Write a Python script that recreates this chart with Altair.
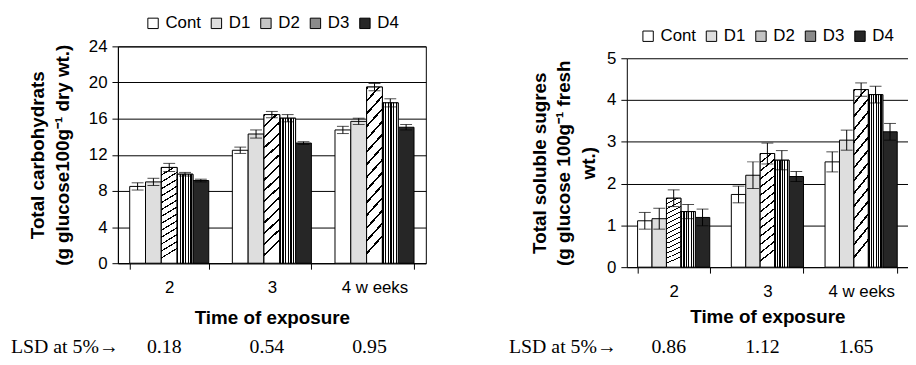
import altair as alt
import pandas as pd

weeks = ["2", "3", "4 w eeks"]
series = ["Cont", "D1", "D2", "D3", "D4"]

# Total carbohydrates (g glucose 100g-1 dry wt.)
carb_2 = [8.5, 9.0, 10.6, 9.85, 9.15]
carb_3 = [12.5, 14.3, 16.45, 16.05, 13.3]
carb_4 = [14.75, 15.7, 19.5, 17.75, 15.05]
carb_err_2 = [0.4, 0.4, 0.45, 0.2, 0.15]
carb_err_3 = [0.35, 0.45, 0.35, 0.4, 0.15]
carb_err_4 = [0.4, 0.35, 0.4, 0.45, 0.3]
carb_lsd = ["0.18", "0.54", "0.95"]

# Total soluble sugars (g glucose 100g-1 fresh wt.)
sugar_2 = [1.11, 1.16, 1.65, 1.33, 1.19]
sugar_3 = [1.74, 2.2, 2.72, 2.56, 2.17]
sugar_4 = [2.52, 3.04, 4.25, 4.13, 3.24]
sugar_err_2 = [0.2, 0.25, 0.2, 0.17, 0.2]
sugar_err_3 = [0.2, 0.32, 0.25, 0.23, 0.12]
sugar_err_4 = [0.24, 0.24, 0.16, 0.2, 0.2]
sugar_lsd = ["0.86", "1.12", "1.65"]

lsd_label = "LSD at 5%\u2192"

fills = ["white", "#dedede", "#c4c4c4", "#8a8a8a", "#262626"]
SANS = "Liberation Sans"
SERIF = "Liberation Serif"


def make_df(means, errs):
    rows = []
    for w, m, e in zip(weeks, means, errs):
        for s, v, d in zip(series, m, e):
            rows.append({"week": w, "series": s, "value": v, "low": v - d, "high": v + d})
    return pd.DataFrame(rows)


def stops(n, frac, dark="black", light="white"):
    out = []
    for i in range(n):
        a = i / n
        b = (i + frac) / n
        c = (i + 1) / n
        out += [alt.GradientStop(color=dark, offset=a), alt.GradientStop(color=dark, offset=b),
                alt.GradientStop(color=light, offset=b), alt.GradientStop(color=light, offset=c)]
    return out


vstripe = alt.Gradient(gradient="linear", x1=0, y1=0, x2=1, y2=0, stops=stops(6, 0.5))
diag = alt.Gradient(gradient="linear", x1=0, y1=0, x2=0.1, y2=1, stops=stops(14, 0.2))


def panel(df, lsd, ymax, ystep, ytitle, width, height, top_gap, ytitle_pad, xtitle_pad,
          legend_x, legend_y, lsd_x, lsd_y, view):
    xs = alt.X("week:N", scale=alt.Scale(domain=weeks, paddingInner=0.23, paddingOuter=0.115),
               axis=alt.Axis(title="Time of exposure", labelAngle=0, tickBand="extent", tickSize=6,
                             tickColor="black", domainColor="black", labelColor="black",
                             labelFont=SANS, labelFontSize=17, labelPadding=11,
                             titleFont=SANS, titleFontSize=19, titleFontWeight="bold",
                             titleColor="black", titlePadding=xtitle_pad, grid=False))
    xo = alt.XOffset("series:N", scale=alt.Scale(domain=series, paddingInner=0, paddingOuter=0))
    yvals = [i * ystep for i in range(int(round(ymax / ystep)) + 1)]
    ys = alt.Y("value:Q", scale=alt.Scale(domain=[0, ymax], nice=False, range=[height, top_gap]),
               axis=alt.Axis(values=yvals, grid=True, gridColor="black", gridWidth=1,
                             labelOverlap=False, tickCount=len(yvals),
                             tickSize=6, tickColor="black", domainColor="black",
                             labelColor="black", labelFont=SANS, labelFontSize=17, labelPadding=5,
                             title=ytitle, titleFont=SANS, titleFontSize=19, titleFontWeight="bold",
                             titleColor="black", titleLineHeight=25, titlePadding=ytitle_pad))
    color = alt.Color("series:N", scale=alt.Scale(domain=series, range=fills),
                      legend=alt.Legend(orient="none", legendX=legend_x, legendY=legend_y,
                                        direction="horizontal", title=None, symbolType="square",
                                        symbolSize=110, symbolStrokeColor="black",
                                        symbolStrokeWidth=1, symbolOpacity=1,
                                        labelFont=SANS, labelFontSize=17, labelColor="black",
                                        labelOffset=4, columnPadding=7, padding=0))
    base = alt.Chart(df)
    bars = base.mark_bar(stroke="black", strokeWidth=1, opacity=1).encode(x=xs, xOffset=xo, y=ys, color=color)
    d2 = base.transform_filter(alt.datum.series == "D2").mark_bar(
        fill=diag, stroke="black", strokeWidth=1).encode(x=xs, xOffset=xo, y=ys)
    d3 = base.transform_filter(alt.datum.series == "D3").mark_bar(
        fill=vstripe, stroke="black", strokeWidth=1).encode(x=xs, xOffset=xo, y=ys)
    rule = base.mark_rule(color="black", strokeWidth=1).encode(
        x=xs, xOffset=xo, y=alt.Y("low:Q"), y2="high:Q")
    cap_lo = base.mark_tick(color="black", thickness=1, size=12, orient="horizontal").encode(
        x=xs, xOffset=xo, y=alt.Y("low:Q"))
    cap_hi = base.mark_tick(color="black", thickness=1, size=12, orient="horizontal").encode(
        x=xs, xOffset=xo, y=alt.Y("high:Q"))
    lsd_df = pd.DataFrame({"week": weeks, "lsd": lsd})
    lsd_text = alt.Chart(lsd_df).mark_text(font=SERIF, fontSize=20, color="black", baseline="middle",
                                           dx=-5).encode(
        x=alt.X("week:N"), y=alt.value(lsd_y), text="lsd:N")
    lab_df = pd.DataFrame({"label": [lsd_label]})
    lab_text = alt.Chart(lab_df).mark_text(font=SERIF, fontSize=20, color="black", baseline="middle",
                                           align="left").encode(
        x=alt.value(lsd_x), y=alt.value(lsd_y), text="label:N")
    return alt.layer(bars, d2, d3, rule, cap_lo, cap_hi, lsd_text, lab_text).properties(
        width=width, height=height, view=view)


left = panel(make_df([carb_2, carb_3, carb_4], [carb_err_2, carb_err_3, carb_err_4]), carb_lsd,
             24, 4, ["Total carbohydrats", "(g glucose100g\u207b\u00b9 dry wt.)"],
             311, 219, 0, 16, 13, 27, -32, -108, 304,
             alt.ViewBackground(stroke="black", strokeWidth=1))
right = panel(make_df([sugar_2, sugar_3, sugar_4], [sugar_err_2, sugar_err_3, sugar_err_4]), sugar_lsd,
              5, 1, ["Total soluble sugres", "(g glucose 100g\u207b\u00b9 fresh", "wt.)"],
              284, 223, 12, 8, 8, 13, -19, -119, 304,
              alt.ViewBackground(strokeOpacity=0))

chart = alt.hconcat(left, right, spacing=83).resolve_scale(
    color="independent", x="independent", y="independent", xOffset="independent"
).resolve_legend(color="independent").properties(
    padding={"left": 2, "top": 4, "right": 0, "bottom": 0}
).configure(font=SANS)

chart.save("out.html", embed_options={"renderer": "svg", "actions": False})
